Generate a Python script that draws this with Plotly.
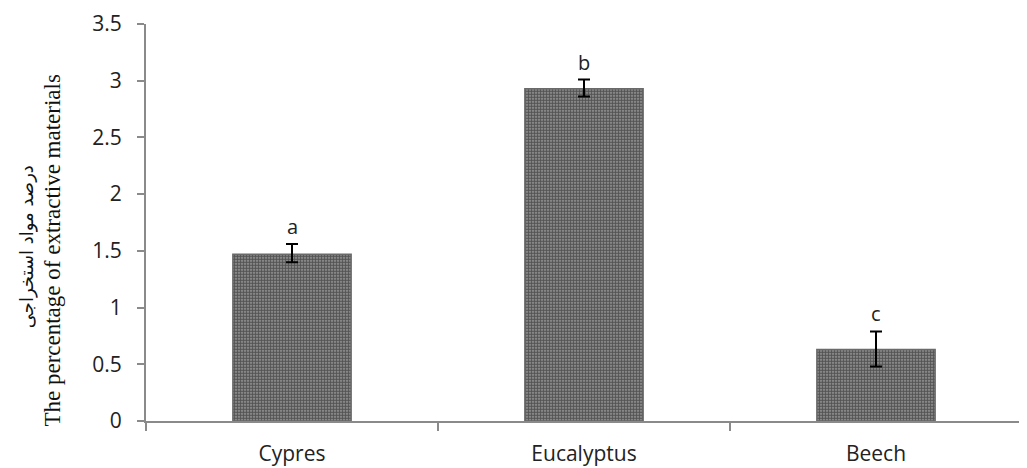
import plotly.graph_objects as go

categories = ["Cypres", "Eucalyptus", "Beech"]
values = [1.47, 2.93, 0.63]
err_plus = [0.09, 0.08, 0.16]
err_minus = [0.07, 0.07, 0.15]
letters = ["a", "b", "c"]
y_ticks = [0, 0.5, 1, 1.5, 2, 2.5, 3, 3.5]
y_title_en = "The percentage of extractive materials"
y_title_fa = "درصد مواد استخراجی"

fig = go.Figure()
fig.add_trace(go.Bar(
    x=categories, y=values,
    marker=dict(
        color="#555555",
        line=dict(color="#6a6a6a", width=1.5),
        pattern=dict(shape=".", fgcolor="#000000", bgcolor="#a8a8a8", size=3, solidity=0.7),
    ),
    error_y=dict(type="data", symmetric=False, array=err_plus, arrayminus=err_minus,
                 color="#000000", thickness=2, width=6),
    width=0.405,
))

for c, v, e, l in zip(categories, values, err_plus, letters):
    fig.add_annotation(x=c, y=v + e, text=l, showarrow=False, yanchor="bottom", yshift=2,
                       font=dict(family="Open Sans, Liberation Sans", size=20, color="#222"))

# axis titles (rotated), placed in paper coords
fig.add_annotation(xref="paper", yref="paper", x=-0.107, y=0.43, text=y_title_en,
                   textangle=-90, showarrow=False, xanchor="center", yanchor="middle",
                   font=dict(family="Liberation Serif", size=23, color="#111"))
fig.add_annotation(xref="paper", yref="paper", x=-0.136, y=0.44, text=y_title_fa,
                   textangle=-90, showarrow=False, xanchor="center", yanchor="middle",
                   font=dict(family="DejaVu Sans", size=18, color="#111"))

fig.update_layout(
    width=1019, height=460,
    margin=dict(l=138, r=5, t=16, b=47, autoexpand=False),
    paper_bgcolor="white", plot_bgcolor="white",
    showlegend=False,
    font=dict(family="Open Sans, Liberation Sans", size=21, color="#222"),
)
fig.update_xaxes(
    showline=True, linecolor="#8a8a8a", linewidth=2, automargin=False,
    ticks="outside", tickson="boundaries", ticklen=8, tickcolor="#8a8a8a", tickwidth=2,
    tickfont=dict(size=21), ticklabelstandoff=13,
)
fig.update_yaxes(
    range=[0, 3.5], tickvals=y_ticks, ticktext=[f"{t:g}" for t in y_ticks],
    showline=True, linecolor="#8a8a8a", linewidth=2, showgrid=False, zeroline=False,
    automargin=False,
    ticks="outside", ticklen=7, tickcolor="#8a8a8a", tickwidth=2,
    tickfont=dict(size=21), ticklabelstandoff=11,
)

fig.write_html("out.html")
